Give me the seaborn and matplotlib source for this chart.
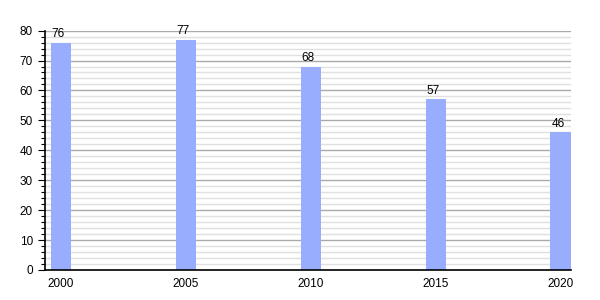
import matplotlib
matplotlib.use("Agg")
import matplotlib.pyplot as plt
import seaborn as sns
import pandas as pd
from matplotlib.ticker import MultipleLocator

years = ["2000", "2005", "2010", "2015", "2020"]
values = [76, 77, 68, 57, 46]

df = pd.DataFrame({"year": years, "value": values})

sns.set_style("white")
plt.rcParams['font.family'] = ['Liberation Sans', 'DejaVu Sans']
plt.rcParams['text.color'] = 'black'
plt.rcParams['xtick.color'] = 'black'
plt.rcParams['ytick.color'] = 'black'

fig = plt.figure(figsize=(6, 3), dpi=100)
ax = fig.add_axes([0.0758, 0.1, 0.952 - 0.0758, 0.898 - 0.1])

sns.barplot(data=df, x="year", y="value", color="#99adff", saturation=1,
            width=0.164, ax=ax, zorder=3, edgecolor="none", linewidth=0)

ax.set_xlim(-0.124, 4.084)
ax.set_ylim(0, 80)
ax.yaxis.set_major_locator(MultipleLocator(10))
ax.yaxis.set_minor_locator(MultipleLocator(2))
ax.grid(which="major", axis="y", color="#aaaaaa", linewidth=1, zorder=1)
ax.grid(which="minor", axis="y", color="#e0e0e0", linewidth=1, zorder=0)
ax.set_axisbelow(True)

for s in ["top", "right"]:
    ax.spines[s].set_visible(False)
for s in ["left", "bottom"]:
    ax.spines[s].set_color("black")
    ax.spines[s].set_linewidth(1.2)
    ax.spines[s].set_zorder(4)

ax.tick_params(axis="y", which="major", left=True, length=5, width=0.8, color="black",
               labelsize=8.5, pad=4, labelcolor="black")
ax.tick_params(axis="y", which="minor", left=True, length=3, width=0.8, color="black")
ax.tick_params(axis="x", which="both", bottom=False, labelsize=8.5, pad=2, labelcolor="black")

ax.set_xlabel("")
ax.set_ylabel("")

for i, v in enumerate(values):
    ax.text(i - 0.02, v + 0.8, str(v), ha="center", va="bottom", fontsize=8.5, color="black")

fig.savefig("out.png", dpi=100)
